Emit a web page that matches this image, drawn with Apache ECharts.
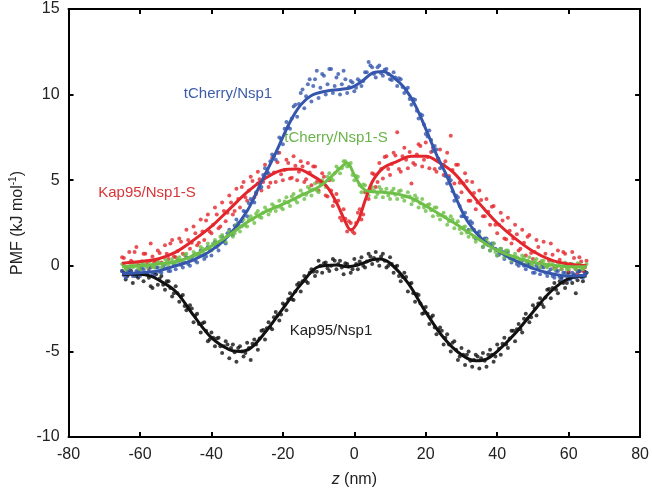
<!DOCTYPE html>
<html>
<head>
<meta charset="utf-8">
<script src="https://cdn.jsdelivr.net/npm/echarts@6/dist/echarts.min.js"></script>
<style>
html,body{margin:0;padding:0;background:#fff;}
#c{width:652px;height:493px;}
</style>
</head>
<body>
<div id="c"></div>
<script>
// ---- Data ----
const xTicks = [-80, -60, -40, -20, 0, 20, 40, 60, 80];
const yTicks = [-10, -5, 0, 5, 10, 15];

// sample positions (nm)
const zScatter = [-65,-64,-63,-62,-61,-60,-59,-58,-57,-56,-55,-54,-53,-52,-51,-50,-49,-48,-47,-46,-45,-44,-43,-42,-41,-40,-39,-38,-37,-36,-35,-34,-33,-32,-31,-30,-29,-28,-27,-26,-25,-24,-23,-22,-21,-20,-19,-18,-17,-16,-15,-14,-13,-12,-11,-10,-9,-8,-7,-6,-5,-4,-3,-2,-1,0,1,2,3,4,5,6,7,8,9,10,11,12,13,14,15,16,17,18,19,20,21,22,23,24,25,26,27,28,29,30,31,32,33,34,35,36,37,38,39,40,41,42,43,44,45,46,47,48,49,50,51,52,53,54,55,56,57,58,59,60,61,62,63,64,65];
const zHalf = [-64.5,-63.5,-62.5,-61.5,-60.5,-59.5,-58.5,-57.5,-56.5,-55.5,-54.5,-53.5,-52.5,-51.5,-50.5,-49.5,-48.5,-47.5,-46.5,-45.5,-44.5,-43.5,-42.5,-41.5,-40.5,-39.5,-38.5,-37.5,-36.5,-35.5,-34.5,-33.5,-32.5,-31.5,-30.5,-29.5,-28.5,-27.5,-26.5,-25.5,-24.5,-23.5,-22.5,-21.5,-20.5,-19.5,-18.5,-17.5,-16.5,-15.5,-14.5,-13.5,-12.5,-11.5,-10.5,-9.5,-8.5,-7.5,-6.5,-5.5,-4.5,-3.5,-2.5,-1.5,-0.5,0.5,1.5,2.5,3.5,4.5,5.5,6.5,7.5,8.5,9.5,10.5,11.5,12.5,13.5,14.5,15.5,16.5,17.5,18.5,19.5,20.5,21.5,22.5,23.5,24.5,25.5,26.5,27.5,28.5,29.5,30.5,31.5,32.5,33.5,34.5,35.5,36.5,37.5,38.5,39.5,40.5,41.5,42.5,43.5,44.5,45.5,46.5,47.5,48.5,49.5,50.5,51.5,52.5,53.5,54.5,55.5,56.5,57.5,58.5,59.5,60.5,61.5,62.5,63.5,64.5];

// Kap95/Nsp1 (black)
const kapNspScatter = [-0.3,-0.8,-0.4,-1.0,-0.6,-0.2,-0.9,-0.5,-1.2,-0.4,
 -1.1,-0.6,-1.4,-0.9,-1.8,-1.2,-2.1,-1.7,-2.6,-2.3,
 -3.3,-2.8,-3.9,-3.3,-4.4,-3.9,-4.7,-4.2,-5.1,-4.4,
 -5.4,-4.6,-5.6,-4.7,-5.3,-4.5,-5.5,-4.3,-4.9,-3.8,
 -4.3,-3.3,-3.7,-2.7,-3.2,-2.2,-2.6,-1.6,-2.0,-1.1,
 -1.5,-0.6,-1.0,-0.2,-0.6,0.3,-0.4,0.2,-0.3,0.4,
 -0.2,0.3,-0.5,0.1,-0.4,0.4,-0.2,0.5,-0.1,0.7,
 0.1,0.8,0.0,0.7,-0.1,0.5,-0.4,0.0,-0.9,-0.4,
 -1.5,-1.0,-2.1,-1.7,-2.8,-2.4,-3.4,-2.9,-4.0,-3.6,
 -4.6,-4.0,-5.0,-4.4,-5.5,-4.8,-5.8,-5.0,-5.9,-5.2,
 -6.0,-5.1,-5.9,-4.9,-5.6,-4.6,-5.2,-4.2,-4.8,-3.8,
 -4.4,-3.4,-3.9,-2.8,-3.3,-2.3,-2.9,-1.9,-2.4,-1.4,
 -1.9,-1.0,-1.6,-0.7,-1.3,-0.4,-1.0,-1.6,-0.3,-0.9,
 -0.4];
const kapNspHalf = [-0.4,-0.6,-0.3,-0.5,-0.7,-0.45,-0.4,-0.7,-1.3,-0.5,
 -0.75,-1.1,-0.9,-1.3,-1.6,-1.6,-1.8,-2.35,-2.5,-2.5,
 -2.9,-3.4,-3.35,-3.8,-4.3,-4.2,-4.25,-4.7,-4.7,-4.6,
 -4.8,-5.05,-4.8,-5.0,-5.1,-4.8,-4.55,-4.6,-4.25,-3.75,
 -3.65,-3.6,-3.0,-2.9,-2.85,-2.3,-1.95,-1.95,-1.5,-1.0,
 -0.9,-0.9,-0.4,-0.35,-0.35,0.0,0.15,-0.15,0.0,0.3,
 0.1,-0.1,0.15,-0.05,-0.2,0.1,0.25,0.0,0.25,0.55,
 0.45,0.3,0.55,0.3,0.0,0.1,-0.05,-0.6,-0.65,-0.65,
 -1.05,-1.6,-1.65,-2.2,-2.75,-2.8,-3.0,-3.6,-3.75,-3.8,
 -4.2,-4.6,-4.5,-4.9,-5.3,-5.2,-5.2,-5.55,-5.5,-5.3,
 -5.4,-5.55,-5.2,-5.2,-5.3,-4.85,-4.55,-4.6,-4.25,-3.8,
 -3.7,-3.7,-3.1,-3.1,-3.0,-2.5,-2.2,-2.25,-1.85,-1.35,
 -1.3,-1.4,-0.9,-1.0,-1.0,-0.7,-0.55,-0.85,-0.65,-0.35];

// tCherry/Nsp1 (blue)
const tcNspScatter = [-0.3,-0.7,-0.2,-0.6,-0.3,-0.6,-0.2,-0.5,-0.1,-0.6,
 -0.1,-0.4,0.1,-0.3,0.2,-0.2,0.3,-0.1,0.5,0.0,
 0.6,0.2,0.9,0.4,1.1,0.6,1.4,0.9,1.7,1.3,
 2.1,1.8,2.7,2.3,3.2,2.9,3.9,3.7,4.8,4.6,
 5.7,5.4,6.5,6.2,7.5,7.1,8.4,8.0,9.3,8.7,
 10.1,9.2,10.6,9.6,10.9,9.8,11.2,10.0,11.5,10.1,
 11.0,10.0,11.4,10.1,10.8,10.2,10.9,10.5,11.3,11.9,
 11.6,11.0,11.7,11.1,11.5,10.9,11.3,10.5,10.9,10.1,
 10.4,9.4,9.7,8.6,8.8,7.7,7.9,6.7,6.8,5.7,
 5.9,4.8,5.0,3.8,4.0,2.9,3.1,2.1,2.5,1.6,
 2.0,1.1,1.6,0.9,1.3,0.6,1.0,0.4,0.8,0.2,
 0.5,0.0,0.3,-0.2,0.1,-0.4,0.0,-0.5,-0.1,-0.6,
 -0.2,-0.7,-0.3,-0.8,-0.4,-0.8,-0.4,-0.7,-0.3,-0.7,
 -0.4];
const tcNspHalf = [-0.55,-0.3,-0.4,-0.6,-0.3,-0.15,-0.4,-0.3,-0.5,-0.1,
 -0.35,-0.05,-0.15,-0.3,0.05,0.3,0.05,0.2,0.1,0.5,
 0.3,0.65,0.6,0.55,0.95,1.25,1.1,1.4,1.4,1.9,
 1.85,2.35,2.5,2.6,3.15,3.65,3.8,4.3,4.55,5.3,
 5.45,6.1,6.4,6.6,7.4,8.0,8.1,8.6,9.4,9.45,
 10.3,9.9,10.9,10.5,11.4,10.4,11.1,10.6,11.5,10.5,
 11.2,10.6,10.9,10.45,10.7,10.4,10.8,10.8,11.3,11.7,
 11.2,11.6,11.25,11.45,11.2,10.85,11.0,10.95,10.45,10.3,
 9.75,9.75,9.05,8.85,8.25,7.55,7.35,7.0,6.25,5.9,
 5.25,5.15,4.35,4.1,3.5,2.9,2.8,2.6,2.1,1.9,
 1.5,1.6,1.2,1.3,1.0,0.65,0.8,0.85,0.45,0.4,
 0.1,0.35,0.0,0.15,-0.1,-0.4,-0.15,-0.05,-0.4,-0.35,
 -0.6,-0.3,-0.65,-0.4,-0.6,-0.8,-0.5,-0.35,-0.6,-0.5];

// Kap95/Nsp1-S (red)
const kapNspSScatter = [0.5,-0.1,0.8,0.2,1.1,0.0,0.7,0.1,1.3,0.2,
 0.9,0.2,1.2,0.4,1.5,0.5,1.6,0.7,2.1,1.0,
 2.3,1.2,2.7,1.5,3.0,1.9,3.4,2.2,3.7,2.6,
 4.1,3.0,4.5,3.4,4.9,3.8,5.2,4.0,5.5,4.4,
 5.9,4.6,6.3,4.9,6.6,5.0,6.2,5.1,6.4,5.0,
 6.1,4.9,6.0,4.7,5.8,4.4,5.4,4.1,5.0,3.5,
 4.2,2.8,3.3,2.0,2.5,1.9,3.1,2.7,4.3,3.9,
 5.4,4.6,6.0,5.1,6.4,5.3,6.6,7.8,5.5,6.9,
 5.7,4.8,5.9,7.1,5.8,7.2,5.7,6.9,5.5,6.8,
 5.3,6.6,7.6,4.8,5.9,4.3,5.4,3.8,4.9,3.3,
 4.4,2.9,3.9,2.4,3.5,1.9,3.1,1.6,2.8,1.3,
 2.4,0.9,2.1,0.6,1.8,0.4,1.5,0.2,1.4,0.0,
 1.3,-0.1,0.9,-0.2,0.7,-0.3,0.8,-0.2,0.5,-0.3,
 0.3];
const kapNspSHalf = [0.45,-0.2,0.3,0.8,0.05,0.25,0.7,-0.15,0.55,0.3,
 0.75,0.1,0.7,1.3,0.55,0.85,1.4,0.65,1.5,1.35,
 1.9,1.35,2.0,2.65,2.0,2.4,3.0,2.3,3.2,3.1,
 3.7,3.2,3.9,4.6,4.0,4.4,4.95,4.2,5.05,4.9,
 5.45,4.85,5.45,6.05,5.35,5.6,6.0,5.15,5.85,5.5,
 5.8,5.05,5.45,5.8,4.9,4.9,5.2,4.05,4.4,3.75,
 3.8,2.65,2.75,2.6,2.0,2.5,3.3,3.0,4.3,4.5,
 5.35,4.9,5.65,6.35,5.65,5.95,6.45,5.65,6.4,6.2,
 6.65,6.0,6.5,7.0,6.2,6.35,6.65,5.65,6.25,5.8,
 6.1,5.25,5.6,5.9,4.85,4.8,4.95,3.8,4.25,3.7,
 3.85,2.9,3.15,3.45,2.4,2.4,2.65,1.55,2.05,1.6,
 1.85,1.0,1.35,1.7,0.75,0.8,1.1,0.1,0.7,0.3,
 0.65,-0.1,0.35,0.8,-0.05,0.1,0.45,-0.45,0.25,-0.1];

// tCherry/Nsp1-S (green)
const tcNspSScatter = [0.1,-0.2,0.2,-0.1,0.2,-0.2,0.2,-0.1,0.3,-0.1,
 0.3,-0.1,0.4,0.0,0.4,0.1,0.5,0.2,0.7,0.3,
 0.8,0.5,1.1,0.7,1.3,0.9,1.5,1.2,1.8,1.4,
 2.0,1.7,2.4,2.0,2.7,2.3,2.9,2.5,3.2,2.8,
 3.4,3.0,3.6,3.2,3.8,3.3,4.0,3.5,4.2,3.7,
 4.4,3.9,4.6,4.1,4.8,4.3,5.0,4.6,5.4,5.0,
 5.8,5.4,6.1,5.8,6.0,5.0,5.2,4.3,4.7,4.1,
 4.6,4.0,4.6,4.0,4.5,3.9,4.5,3.9,4.4,3.8,
 4.3,3.6,4.1,3.4,3.9,3.2,3.6,2.9,3.4,2.7,
 3.1,2.4,2.9,2.2,2.6,1.9,2.3,1.7,2.1,1.4,
 1.8,1.1,1.5,0.9,1.3,0.6,1.0,0.5,0.9,0.3,
 0.7,0.2,0.6,0.1,0.5,0.0,0.4,-0.1,0.3,-0.1,
 0.3,-0.2,0.2,-0.2,0.2,-0.2,0.1,-0.2,0.1,-0.2,
 0.1];
const tcNspSHalf = [0.0,-0.15,0.1,0.0,-0.15,0.1,0.0,0.25,-0.05,0.1,
 0.15,0.05,0.3,0.2,0.1,0.4,0.3,0.65,0.4,0.55,
 0.7,0.65,1.0,1.0,0.95,1.3,1.3,1.7,1.5,1.75,
 1.9,1.9,2.35,2.3,2.35,2.7,2.7,3.05,2.85,3.1,
 3.25,3.2,3.5,3.45,3.4,3.75,3.7,4.05,3.85,4.05,
 4.2,4.15,4.5,4.45,4.4,4.8,4.8,5.2,5.1,5.4,
 5.65,5.7,6.1,5.85,5.3,5.25,4.7,4.75,4.3,4.35,
 4.4,4.2,4.45,4.3,4.1,4.35,4.15,4.35,4.0,4.05,
 4.05,3.8,3.95,3.65,3.4,3.55,3.25,3.4,2.95,2.95,
 2.85,2.6,2.7,2.45,2.15,2.25,1.95,2.1,1.65,1.6,
 1.5,1.25,1.35,1.1,0.8,0.95,0.75,0.9,0.5,0.55,
 0.5,0.3,0.5,0.3,0.1,0.3,0.1,0.3,0.0,0.05,
 0.1,-0.1,0.15,0.0,-0.2,0.05,-0.1,0.15,-0.15,-0.05];

// fitted curves
const kapNspLineZ = [-65,-60,-57,-55,-50,-45,-40,-35,-32,-29,-25,-20,-15,-10,-5,-2,1,5,7,10,15,20,25,30,34,37,40,45,50,55,60,65];
const kapNspLine = [-0.5,-0.5,-0.6,-0.8,-1.5,-2.9,-4.2,-4.9,-5.0,-4.8,-3.9,-2.5,-1.1,-0.05,0.05,-0.05,0.05,0.35,0.4,0.15,-1.0,-2.7,-4.2,-5.2,-5.55,-5.45,-5.0,-3.95,-2.7,-1.5,-0.75,-0.6];

const tcNspLineZ = [-65,-60,-55,-50,-45,-40,-35,-30,-26,-22,-18,-15,-12,-8,-4,-1,2,5,8,11,14,17,20,23,26,29,32,36,40,45,50,55,60,65];
const tcNspLine = [-0.45,-0.4,-0.3,0.0,0.35,0.9,1.8,3.2,4.9,6.6,8.4,9.4,9.95,10.2,10.3,10.4,10.75,11.25,11.35,11.0,10.4,9.4,8.0,6.5,5.2,3.7,2.5,1.5,0.9,0.3,-0.15,-0.45,-0.6,-0.55];

const kapNspSLineZ = [-65,-60,-55,-50,-45,-40,-35,-30,-25,-20,-16,-12,-8,-5,-3,-1,1,3,5,8,12,16,20,24,28,32,36,40,45,50,55,60,65];
const kapNspSLine = [0.15,0.25,0.4,0.8,1.5,2.3,3.3,4.3,5.1,5.6,5.65,5.3,4.7,3.7,2.8,2.1,2.6,3.8,4.9,5.7,6.1,6.4,6.4,6.0,5.4,4.4,3.4,2.5,1.6,0.85,0.35,0.1,0.0];

const tcNspSLineZ = [-65,-60,-55,-50,-45,-40,-35,-30,-25,-20,-15,-10,-7,-4,-2,0,2,4,8,12,16,20,24,28,32,36,40,45,50,55,60,65];
const tcNspSLine = [-0.05,0.0,0.1,0.25,0.6,1.15,1.8,2.55,3.15,3.6,4.1,4.6,5.1,5.7,6.0,5.3,4.6,4.35,4.3,4.2,3.95,3.5,3.0,2.5,1.95,1.4,0.9,0.5,0.2,0.05,-0.05,-0.05];

const seriesNames = ['Kap95/Nsp1', 'Kap95/Nsp1-S', 'tCherry/Nsp1', 'tCherry/Nsp1-S'];

// ---- build ----
function pairs(xs, ys) {
  const n = Math.min(xs.length, ys.length);
  const out = [];
  for (let i = 0; i < n; i++) out.push([xs[i], ys[i]]);
  return out;
}

const FONT = "'Liberation Sans', Arial, sans-serif";
const colors = {
  black: '#111111',
  red: '#e3262c',
  blue: '#3556ad',
  green: '#6dbf47'
};

const chart = echarts.init(document.getElementById('c'), null, {renderer: 'canvas'});

function scatterSeries(name, data, color) {
  return {
    name: name, type: 'scatter', data: data, symbolSize: 4,
    itemStyle: {color: color}, silent: true, z: 2
  };
}
function lineSeries(name, data, color) {
  return {
    name: name + ' fit', type: 'line', data: data, smooth: 0.35, showSymbol: false,
    lineStyle: {color: color, width: 3}, silent: true, z: 3
  };
}

const axisLine = {show: true, onZero: false, lineStyle: {color: '#000', width: 2}};
const axisTick = {show: true, inside: true, length: 5, lineStyle: {color: '#000', width: 2}};

const option = {
  animation: false,
  backgroundColor: '#fff',
  grid: {left: 52, right: 11, top: 9, bottom: 50, containLabel: false},
  xAxis: [{
    type: 'value', min: -80, max: 80, interval: 20, position: 'bottom',
    axisLine: axisLine, axisTick: axisTick, splitLine: {show: false},
    axisLabel: {fontSize: 16, color: '#222', fontFamily: FONT, margin: 10},
    name: '{i|z} (nm)', nameLocation: 'middle', nameGap: 35,
    nameTextStyle: {fontSize: 16, color: '#222', fontFamily: FONT,
      rich: {i: {fontStyle: 'italic', fontSize: 16, color: '#222', fontFamily: FONT}}}
  }, {
    type: 'value', min: -80, max: 80, interval: 20, position: 'top',
    axisLine: axisLine, axisTick: axisTick, splitLine: {show: false},
    axisLabel: {show: false}
  }],
  yAxis: [{
    type: 'value', min: -10, max: 15, interval: 5, position: 'left',
    axisLine: axisLine, axisTick: axisTick, splitLine: {show: false},
    axisLabel: {fontSize: 16, color: '#222', fontFamily: FONT, margin: 9},
    name: '{a|PMF (kJ mol}{s|-1}{a|)}', nameLocation: 'middle', nameGap: 34, nameRotate: 90,
    nameTextStyle: {fontSize: 16, color: '#222', fontFamily: FONT,
      rich: {
        a: {fontSize: 16, color: '#222', fontFamily: FONT},
        s: {fontSize: 10, color: '#222', fontFamily: FONT, padding: [0, 0, 9, 0]}
      }}
  }, {
    type: 'value', min: -10, max: 15, interval: 5, position: 'right',
    axisLine: axisLine, axisTick: axisTick, splitLine: {show: false},
    axisLabel: {show: false}
  }],
  series: [
    scatterSeries(seriesNames[0], pairs(zScatter, kapNspScatter).concat(pairs(zHalf, kapNspHalf)), colors.black),
    lineSeries(seriesNames[0], pairs(kapNspLineZ, kapNspLine), colors.black),
    scatterSeries(seriesNames[1], pairs(zScatter, kapNspSScatter).concat(pairs(zHalf, kapNspSHalf)), colors.red),
    lineSeries(seriesNames[1], pairs(kapNspSLineZ, kapNspSLine), colors.red),
    scatterSeries(seriesNames[2], pairs(zScatter, tcNspScatter).concat(pairs(zHalf, tcNspHalf)), colors.blue),
    lineSeries(seriesNames[2], pairs(tcNspLineZ, tcNspLine), colors.blue),
    scatterSeries(seriesNames[3], pairs(zScatter, tcNspSScatter).concat(pairs(zHalf, tcNspSHalf)), colors.green),
    lineSeries(seriesNames[3], pairs(tcNspSLineZ, tcNspSLine), colors.green)
  ],
  graphic: [
    {type: 'text', x: 228, y: 94, style: {text: seriesNames[2], fill: '#3d5ca8', font: '15px ' + FONT, textAlign: 'center', textVerticalAlign: 'middle'}},
    {type: 'text', x: 336, y: 138, style: {text: seriesNames[3], fill: '#6ab34a', font: '15px ' + FONT, textAlign: 'center', textVerticalAlign: 'middle'}},
    {type: 'text', x: 147, y: 193, style: {text: seriesNames[1], fill: '#d7363a', font: '15px ' + FONT, textAlign: 'center', textVerticalAlign: 'middle'}},
    {type: 'text', x: 331, y: 331, style: {text: seriesNames[0], fill: '#222', font: '15px ' + FONT, textAlign: 'center', textVerticalAlign: 'middle'}}
  ]
};
chart.setOption(option);
</script>
</body>
</html>
